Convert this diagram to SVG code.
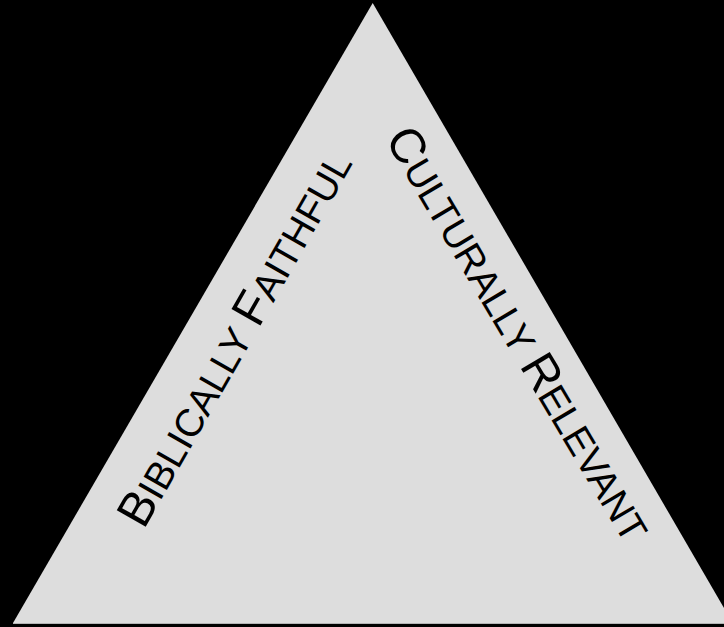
<svg xmlns="http://www.w3.org/2000/svg" width="724" height="627" viewBox="0 0 724 627">
<style>
.lbl{font-family:"Liberation Sans",Arial,sans-serif;fill:#000;}
.big{font-size:48.5px;}
.sm{font-size:38.8px;}
</style>
<rect width="724" height="627" fill="#000"/>
<g id="triangle">
<polygon points="372.7,3 13,623 732.7,623" fill="#dddddd"/>
<line x1="13" y1="623.5" x2="724" y2="623.5" stroke="#b4b4b4" stroke-width="1"/>
</g>
<g id="connectors"></g>
<g id="label-left">
<text class="lbl" text-anchor="middle" transform="translate(248.5,346.5) rotate(-60.3)"><tspan class="big">B</tspan><tspan class="sm">IBLICALLY </tspan><tspan class="big">F</tspan><tspan class="sm">AITHFUL</tspan></text>
</g>
<g id="label-right">
<text class="lbl" text-anchor="middle" transform="translate(505,342) rotate(59.3)"><tspan class="big">C</tspan><tspan class="sm">ULTURALLY </tspan><tspan class="big">R</tspan><tspan class="sm">ELEVANT</tspan></text>
</g>
</svg>
